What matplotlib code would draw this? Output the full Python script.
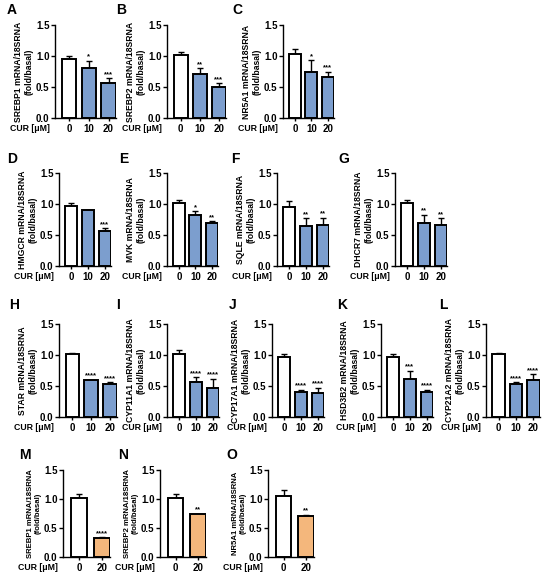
import matplotlib
matplotlib.use("Agg")
import matplotlib.pyplot as plt

plt.rcParams['font.family'] = ['Liberation Sans', 'DejaVu Sans']
plt.rcParams['font.weight'] = 'bold'

# ---------------- data ----------------
doses_3 = ['0', '10', '20']
doses_2 = ['0', '20']

panel_letters = ['A', 'B', 'C', 'D', 'E', 'F', 'G', 'H', 'I', 'J', 'K', 'L', 'M', 'N', 'O']
genes = ['SREBP1', 'SREBP2', 'NR5A1', 'HMGCR', 'MVK', 'SQLE', 'DHCR7',
         'STAR', 'CYP11A1', 'CYP17A1', 'HSD3B2', 'CYP21A2',
         'SREBP1', 'SREBP2', 'NR5A1']

A_mean = [0.95, 0.80, 0.56]; A_err = [0.05, 0.12, 0.08]; A_sig = ['', '*', '***']
B_mean = [1.02, 0.71, 0.50]; B_err = [0.05, 0.09, 0.06]; B_sig = ['', '**', '***']
C_mean = [1.04, 0.74, 0.66]; C_err = [0.08, 0.19, 0.09]; C_sig = ['', '*', '***']
D_mean = [0.96, 0.90, 0.56]; D_err = [0.06, 0.005, 0.05]; D_sig = ['', '', '***']
E_mean = [1.02, 0.83, 0.70]; E_err = [0.05, 0.05, 0.02]; E_sig = ['', '*', '**']
F_mean = [0.95, 0.65, 0.66]; F_err = [0.10, 0.12, 0.12]; F_sig = ['', '**', '**']
G_mean = [1.02, 0.69, 0.66]; G_err = [0.05, 0.14, 0.11]; G_sig = ['', '**', '**']
H_mean = [1.01, 0.59, 0.54]; H_err = [0.03, 0.01, 0.02]; H_sig = ['', '****', '****']
I_mean = [1.02, 0.57, 0.46]; I_err = [0.06, 0.07, 0.16]; I_sig = ['', '****', '****']
J_mean = [0.97, 0.41, 0.38]; J_err = [0.05, 0.03, 0.09]; J_sig = ['', '****', '****']
K_mean = [0.97, 0.62, 0.41]; K_err = [0.05, 0.13, 0.03]; K_sig = ['', '***', '****']
L_mean = [1.01, 0.54, 0.59]; L_err = [0.02, 0.02, 0.10]; L_sig = ['', '****', '****']
M_mean = [1.02, 0.33]; M_err = [0.06, 0.01]; M_sig = ['', '****']
N_mean = [1.02, 0.74]; N_err = [0.06, 0.01]; N_sig = ['', '**']
O_mean = [1.05, 0.71]; O_err = [0.10, 0.02]; O_sig = ['', '**']

yticks = [0.0, 0.5, 1.0, 1.5]

means = [A_mean, B_mean, C_mean, D_mean, E_mean, F_mean, G_mean, H_mean,
         I_mean, J_mean, K_mean, L_mean, M_mean, N_mean, O_mean]
errs = [A_err, B_err, C_err, D_err, E_err, F_err, G_err, H_err,
        I_err, J_err, K_err, L_err, M_err, N_err, O_err]
sigs = [A_sig, B_sig, C_sig, D_sig, E_sig, F_sig, G_sig, H_sig,
        I_sig, J_sig, K_sig, L_sig, M_sig, N_sig, O_sig]

# ---------------- layout (pixels) ----------------
W, H = 550, 574
# (axis left x, axis right x, top y (1.5), bottom y (0.0), letter x, letter y)
layout = [
    (55, 116, 25, 118, 7, 10),
    (167, 226, 25, 118, 116, 10),
    (283, 334, 25, 118, 232, 10),
    (59, 111, 173, 266, 7, 159),
    (167, 218, 173, 266, 119, 159),
    (277, 329, 173, 266, 231, 159),
    (395, 447, 173, 266, 338, 159),
    (59, 117, 324, 417, 9, 305),
    (167, 219, 324, 417, 116, 305),
    (272, 324, 324, 417, 229, 305),
    (381, 433, 324, 417, 337, 305),
    (486, 540, 324, 417, 439, 305),
    (63, 110, 470, 557, 19, 455),
    (160, 206, 470, 557, 118, 455),
    (268, 314, 470, 557, 226, 455),
]

blue = '#7C9ECE'
orange = '#F4B77C'

fig = plt.figure(figsize=(W / 100, H / 100), dpi=100)
fig.patch.set_facecolor('white')

for i in range(15):
    x0, x1, yt, yb, lx, ly = layout[i]
    ax = fig.add_axes([x0 / W, 1 - yb / H, (x1 - x0) / W, (yb - yt) / H])
    vals = means[i]
    n = len(vals)
    labels = doses_3 if n == 3 else doses_2
    xs = list(range(n))
    colors = ['white'] + [blue if i < 12 else orange] * (n - 1)
    width = 0.72 if n == 3 else 0.7
    ax.bar(xs, vals, width=width, color=colors, edgecolor='black', linewidth=1.4, zorder=3)
    ax.errorbar(xs, vals, yerr=[[0] * n, errs[i]], fmt='none', ecolor='black',
                elinewidth=1.0, capsize=2.5, capthick=1.0, zorder=2)
    for xv, v, e, s in zip(xs, vals, errs[i], sigs[i]):
        if s:
            ax.text(xv, v + e + 0.005, s, ha='center', va='bottom', fontsize=5.5,
                    fontweight='bold')
    ax.set_ylim(0, 1.5)
    if n == 3:
        ax.set_xlim(-0.72, 2.38)
    else:
        ax.set_xlim(-0.7, 1.37)
    ax.set_yticks(yticks)
    ax.set_yticklabels([f'{t:.1f}' for t in yticks], fontsize=7, fontweight='bold')
    ax.set_xticks(xs)
    ax.set_xticklabels(labels, fontsize=7, fontweight='bold')
    ax.tick_params(axis='y', length=3, width=1, pad=1)
    ax.tick_params(axis='x', length=2.5, width=1, pad=2)
    for sp in ['top', 'right']:
        ax.spines[sp].set_visible(False)
    for sp in ['left', 'bottom']:
        ax.spines[sp].set_linewidth(1.0)
    ax.patch.set_alpha(0)
    ylsize = 6.2 if i < 12 else 5.6
    ax.set_ylabel(f'{genes[i]} mRNA/18SRNA\n(fold/basal)', fontsize=ylsize,
                  fontweight='bold', labelpad=1.5, linespacing=1.2)
    ax.annotate('CUR [μM]', xy=(0, 0), xycoords='axes fraction',
                xytext=(-4, -4.3), textcoords='offset points', ha='right', va='top',
                fontsize=6.3, fontweight='bold')
    fig.text(lx / W, 1 - ly / H, panel_letters[i], fontsize=10, fontweight='bold',
             ha='left', va='center')

fig.savefig('out.png', dpi=100, facecolor='white')
